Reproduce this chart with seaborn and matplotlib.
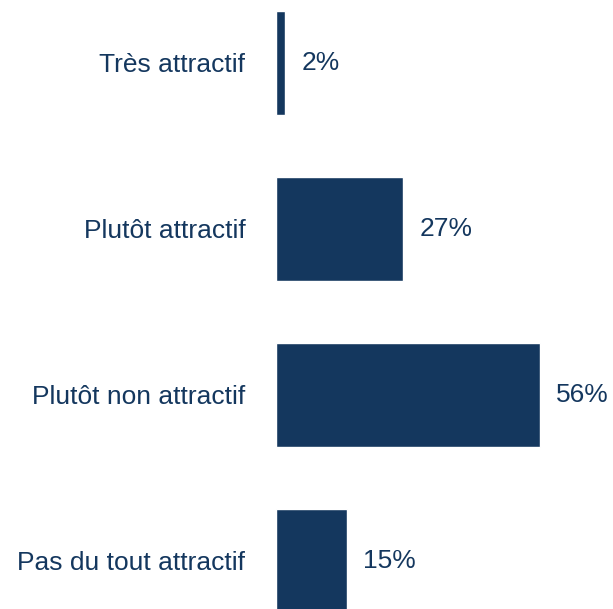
import matplotlib
matplotlib.use("Agg")
import matplotlib.pyplot as plt
import seaborn as sns
import pandas as pd

categories = ["Très attractif", "Plutôt attractif", "Plutôt non attractif", "Pas du tout attractif"]
values = [2, 27, 56, 15]

navy = "#14375e"

sns.set_style("white")
plt.rcParams['font.family'] = ['Liberation Sans', 'DejaVu Sans']

df = pd.DataFrame({"cat": categories, "val": values})

fig = plt.figure(figsize=(6.13, 6.09), dpi=100)
ax = fig.add_axes([276 / 613, 0, 337 / 613, 1])

sns.barplot(data=df, x="val", y="cat", color=navy, saturation=1, width=0.627, ax=ax)

for i, v in enumerate(values):
    ax.annotate(f"{v}%", (v, i), xytext=(16, 0), textcoords="offset pixels",
                va="center", ha="left", fontsize=19, color=navy)

ax.set_xlim(0, 337 / 4.71)
ax.set_ylim(3 + 48 / 166, -63 / 166)
ax.set_xlabel("")
ax.set_ylabel("")
ax.set_xticks([])
ax.tick_params(axis="y", length=0, pad=22, labelsize=19, labelcolor=navy)
sns.despine(ax=ax, left=True, bottom=True)

fig.savefig("out.png", dpi=100)
plt.close()
